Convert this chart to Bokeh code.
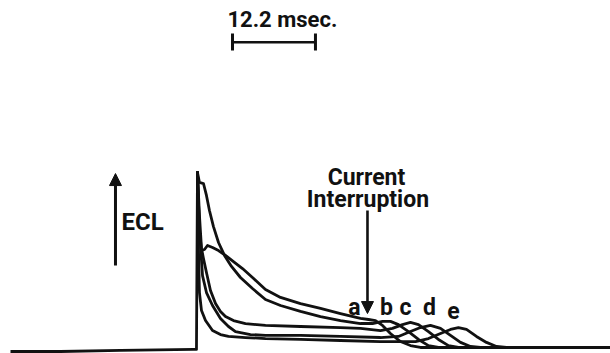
from bokeh.plotting import figure
from bokeh.models import Range1d, Arrow, NormalHead
from bokeh.core.properties import value
from bokeh.embed import file_html
from bokeh.resources import INLINE

# ---- data: time in msec (0 = current step), ECL in relative units (spike top = 100)
baseline_left_t = [-27.5, -20.15, -11.32, -0.59, -0.15, 0.0]
baseline_left_i = [-2.3, -2.3, -1.7, -1.1, -1.1, 100.0]
baseline_right_t = [32.8, 60.74]
baseline_right_i = [0.0, 0.0]

curve_a_t = [0, 0.29, 0.59, 1.03, 1.47, 2.21, 3.09, 4.12, 5.29, 6.62, 8.09, 10.0, 12.21,
             15.15, 18.09, 21.03, 23.97, 25.15, 26.18, 27.21, 28.38, 29.85, 31.32, 32.79]
curve_a_i = [100, 66.9, 55.4, 56.0, 58.3, 57.1, 55.4, 52.6, 49.1, 45.1, 40.0, 33.1, 28.6,
             25.1, 22.3, 19.4, 16.6, 16.0, 15.4, 12.6, 8.0, 3.4, 1.1, 0]

curve_b_t = [0, 0.29, 0.88, 1.32, 1.76, 2.35, 3.09, 3.97, 5.0, 6.32, 8.09, 10.0, 12.21,
             15.15, 18.09, 21.03, 23.97, 25.74, 27.21, 28.38, 29.56, 31.03, 32.5, 33.97, 35.44]
curve_b_i = [100, 94.3, 93.7, 86.9, 78.3, 69.1, 60.0, 52.6, 46.3, 40.0, 33.7, 27.4, 24.0,
             20.6, 17.7, 15.4, 13.7, 13.7, 14.9, 14.9, 13.1, 9.1, 4.6, 1.1, 0]

curve_c_t = [0, 0.29, 0.59, 0.88, 1.32, 1.91, 2.65, 3.38, 4.12, 5.29, 7.06, 10.0, 15.15,
             21.03, 23.97, 26.91, 28.68, 30.15, 31.32, 32.5, 33.97, 35.44, 36.91, 38.38]
curve_c_i = [100, 75.4, 56.6, 50.9, 42.9, 32.6, 25.1, 20.6, 17.7, 15.4, 13.7, 12.6, 12.0,
             11.4, 10.9, 9.7, 10.9, 13.1, 14.3, 13.1, 9.1, 4.6, 1.1, 0]

curve_d_t = [0, 0.29, 0.74, 1.32, 2.21, 3.38, 4.56, 5.59, 7.79, 10.0, 15.15, 21.03, 26.91,
             29.56, 31.32, 32.79, 34.26, 35.74, 37.21, 38.68, 40.15, 41.62]
curve_d_i = [100, 66.9, 41.1, 31.4, 24.0, 16.6, 12.0, 9.1, 7.4, 6.9, 6.9, 6.3, 5.7,
             6.3, 9.1, 11.4, 12.6, 10.9, 6.9, 2.9, 0.6, 0]

curve_e_t = [0, 0.15, 0.29, 0.59, 1.18, 2.21, 3.38, 4.56, 7.06, 10.0, 15.15, 21.03, 26.91,
             32.06, 33.97, 35.74, 37.21, 38.38, 39.56, 41.03, 42.5, 43.97, 45.44]
curve_e_i = [100, 55.4, 31.4, 21.1, 15.4, 9.7, 7.4, 6.3, 5.7, 5.1, 4.6, 4.0, 3.4,
             3.4, 5.1, 8.0, 10.3, 11.4, 10.3, 6.3, 2.9, 0.6, 0]

curve_labels = ["a", "b", "c", "d", "e"]
label_t = [23.09, 27.79, 30.59, 34.12, 37.65]
label_i = [22.6, 22.6, 22.6, 22.6, 20.9]

scale_ms = 12.2
scale_start = 5.15
scale_label = "12.2 msec."
interrupt_t = 25.0
ecl_arrow_t = -12.06

INK = "#111111"
COND = value("Roboto")

p = figure(width=610, height=353, x_range=Range1d(-28.97, 60.74), y_range=Range1d(-3.43, 198.29),
           output_backend="svg", toolbar_location=None, min_border=0,
           x_axis_location=None, y_axis_location=None, outline_line_color=None,
           background_fill_color="white", border_fill_color="white")
p.xgrid.visible = False
p.ygrid.visible = False

lw = 2.8
p.line(baseline_left_t, baseline_left_i, line_color=INK, line_width=lw, line_join="round")
p.line(baseline_right_t, baseline_right_i, line_color=INK, line_width=lw)
for ct, ci in [(curve_a_t, curve_a_i), (curve_b_t, curve_b_i), (curve_c_t, curve_c_i),
               (curve_d_t, curve_d_i), (curve_e_t, curve_e_i)]:
    p.line(ct, ci, line_color=INK, line_width=lw, line_join="round", line_cap="round")

# curve letters
p.text(x=label_t, y=label_i, text=curve_labels, text_font=COND, text_font_style="bold",
       text_font_size="23px", text_align="center", text_baseline="alphabetic", text_color=INK)

# current interruption arrow + label
p.add_layout(Arrow(end=NormalHead(size=12, fill_color=INK, line_color=INK),
                   x_start=interrupt_t, y_start=78.3, x_end=interrupt_t, y_end=19.4,
                   line_color=INK, line_width=2.6))
p.text(x=[24.85, 25.07], y=[97.1, 84.6], text=["Current", "Interruption"], text_font=COND,
       text_font_style="bold", text_font_size="23px", text_align="center",
       text_baseline="alphabetic", text_color=INK)

# ECL arrow + label
p.add_layout(Arrow(end=NormalHead(size=12, fill_color=INK, line_color=INK),
                   x_start=ecl_arrow_t, y_start=46.9, x_end=ecl_arrow_t, y_end=99.4,
                   line_color=INK, line_width=3))
p.text(x=[-11.18], y=[72.0], text=["ECL"], text_font=COND, text_font_style="bold",
       text_font_size="24px", text_align="left", text_baseline="alphabetic", text_color=INK)

# time scale bar
p.segment(x0=[scale_start], y0=[174.5], x1=[scale_start + scale_ms], y1=[174.5],
          line_color=INK, line_width=2.5)
p.segment(x0=[scale_start, scale_start + scale_ms], y0=[169.7, 169.7],
          x1=[scale_start, scale_start + scale_ms], y1=[179.4, 179.4],
          line_color=INK, line_width=3)
p.text(x=[4.41], y=[187.4], text=[scale_label], text_font=COND, text_font_style="bold",
       text_font_size="22px", text_align="left", text_baseline="alphabetic", text_color=INK)

open("out.html", "w").write(file_html(p, INLINE))
